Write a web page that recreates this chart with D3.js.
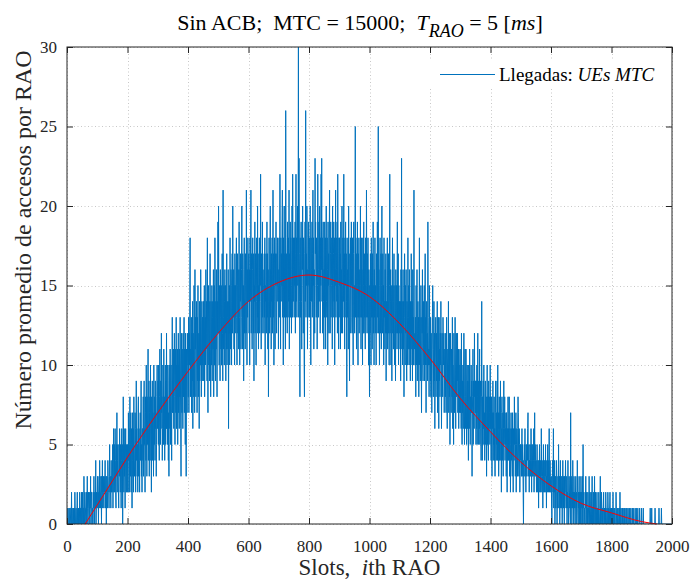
<!DOCTYPE html>
<html>
<head>
<meta charset="utf-8">
<script src="https://d3js.org/d3.v7.min.js"></script>
<style>
  body { margin: 0; background: #fff; }
  svg { display: block; }
</style>
</head>
<body>
<div id="chart"></div>
<script>
// axis ticks
const xTicks = [0, 200, 400, 600, 800, 1000, 1200, 1400, 1600, 1800, 2000];
const yTicks = [0, 5, 10, 15, 20, 25, 30];

// arrivals per RAO slot (slot = index)
const llegadas = [
  1,0,0,1,0,0,0,1,0,0,1,1,0,0,0,2,0,1,0,0,0,1,0,0,1,0,2,1,0,0,1,0,0,1,2,0,0,1,0,1,0,0,2,1,0,1,1,0,2,0,
  1,2,0,1,1,0,3,1,0,2,1,1,0,1,2,0,1,3,1,0,1,2,1,0,0,2,1,1,3,0,1,2,2,0,1,1,0,2,1,3,1,0,2,1,1,4,0,1,2,1,
  2,3,1,2,0,2,3,1,4,2,2,1,3,2,0,3,2,4,1,2,3,2,1,3,2,2,4,1,2,3,0,2,3,2,1,4,3,2,2,1,3,5,2,3,2,1,4,2,3,2,
  3,5,1,4,6,2,3,5,2,6,4,2,1,5,3,7,2,4,5,3,2,1,5,3,6,4,2,5,3,1,4,6,2,5,0,3,8,4,2,6,3,5,1,4,6,3,2,5,4,2,
  5,3,2,7,4,6,2,5,8,4,3,7,2,6,5,1,4,7,3,6,2,8,5,3,4,7,6,2,5,9,4,6,3,5,2,7,8,3,6,4,2,5,7,4,6,9,3,5,2,6,
  6,4,8,3,7,9,5,6,2,8,7,4,10,6,3,8,5,7,11,4,6,9,3,7,8,4,10,6,5,2,8,5,9,4,7,6,3,10,7,5,8,4,9,6,7,3,5,8,10,6,
  7,9,5,10,6,4,8,11,7,5,9,6,12,7,8,4,6,10,9,5,11,7,8,4,7,10,5,9,6,12,6,8,5,10,9,4,7,3,10,8,6,11,5,8,10,7,4,9,13,7,
  9,7,11,6,10,12,8,5,9,11,7,13,6,10,8,11,5,9,12,7,10,6,11,8,13,9,6,3,10,12,7,11,9,6,12,8,10,13,7,11,9,5,12,8,3,11,9,7,12,10,
  10,8,13,7,12,10,14,18,8,11,9,13,7,12,9,14,6,12,11,8,15,10,7,16,11,13,8,10,14,12,7,13,9,15,8,11,12,6,14,9,12,10,16,13,8,11,14,9,13,10,
  11,14,9,13,15,8,12,13,10,16,11,14,12,9,18,11,7,13,15,10,14,9,12,17,11,8,14,12,10,15,9,13,14,11,16,8,12,15,10,18,13,9,14,11,16,12,8,14,12,19,
  12,20,14,10,15,12,9,16,13,11,15,10,14,17,12,9,21,13,11,15,10,14,16,12,15,9,13,11,17,10,14,13,11,16,6,14,12,15,10,18,13,11,16,15,10,14,17,12,20,13,
  13,16,11,15,10,17,13,15,12,16,18,13,10,15,17,12,16,11,14,19,13,10,16,14,17,11,13,16,20,14,11,17,13,15,9,16,18,12,14,11,17,15,12,21,14,10,16,13,18,14,
  14,17,12,16,10,18,14,16,21,12,17,14,11,16,18,13,12,17,9,15,14,19,12,17,15,10,14,18,16,12,20,13,17,11,15,14,18,12,17,15,22,14,11,17,15,12,19,13,16,15,
  15,12,17,13,18,10,15,14,17,12,15,19,13,17,11,16,8,14,18,15,12,17,20,13,16,11,17,14,18,12,15,21,13,17,10,15,18,14,11,17,15,19,13,12,17,15,18,14,16,11,
  15,18,13,17,22,15,11,18,14,17,15,19,21,13,17,10,18,15,20,13,17,15,11,26,18,13,17,16,12,19,16,13,18,14,21,11,17,15,19,13,18,16,12,15,20,13,22,17,14,18,
  16,13,18,15,19,12,17,22,14,18,13,17,20,15,18,30,13,23,17,14,8,18,13,17,19,14,11,18,16,20,15,12,18,16,10,8,17,19,14,26,13,17,15,20,18,11,16,13,19,16,
  15,18,13,17,20,14,10,18,16,14,19,13,17,21,15,18,11,16,14,12,23,17,19,15,13,18,16,11,15,22,18,13,16,19,14,20,17,12,18,15,22,16,23,14,18,12,17,19,14,11,
  16,13,19,15,18,11,16,20,14,13,18,16,10,19,15,17,12,18,21,15,12,17,19,13,15,18,16,11,20,15,13,17,19,14,18,10,16,15,21,13,18,16,14,19,12,22,17,15,11,18,
  15,18,13,17,11,19,15,16,12,20,15,12,18,16,14,22,13,17,11,18,15,19,13,17,14,8,18,13,16,15,11,20,16,13,9,17,15,18,12,13,19,15,16,12,18,14,10,17,19,13,
  15,12,17,25,13,18,15,11,17,13,19,15,10,17,13,18,12,15,16,13,20,15,11,18,13,16,14,10,18,12,15,19,12,17,13,15,11,18,16,13,21,15,12,17,13,18,14,10,16,13,
  8,15,12,17,14,10,18,13,15,11,17,13,19,12,15,10,16,13,18,12,15,13,10,17,15,12,19,13,14,25,12,16,13,10,15,18,12,14,17,11,15,20,13,12,17,14,15,10,18,13,
  14,11,16,12,17,9,14,12,15,18,11,14,12,17,13,10,15,22,12,14,16,10,15,13,9,14,18,12,15,11,14,17,12,10,15,13,9,16,12,15,14,11,19,12,14,17,10,15,12,14,
  13,11,14,9,16,12,23,11,14,10,13,16,11,14,8,13,17,12,10,15,12,16,11,9,14,13,10,18,11,13,15,10,16,11,13,9,14,10,17,12,11,14,9,16,12,13,10,21,12,11,
  12,10,13,8,15,11,10,16,9,12,14,10,13,8,12,18,10,13,9,11,15,10,7,13,12,16,10,9,14,11,10,15,9,12,17,10,13,7,12,14,10,12,9,19,13,10,11,8,15,10,
  11,9,13,8,12,10,7,11,13,15,10,8,11,14,9,12,6,10,12,13,8,12,9,11,14,7,10,13,11,6,13,9,11,8,12,10,14,11,6,10,12,9,8,13,11,10,12,7,10,11,
  10,8,12,7,10,13,8,6,10,11,9,14,7,10,8,12,5,10,12,9,7,11,10,8,13,6,10,9,5,12,10,7,9,13,10,6,9,12,8,10,9,12,7,9,11,6,11,9,7,10,
  9,7,11,6,12,8,5,9,7,10,6,9,12,8,5,9,11,6,8,11,9,5,8,10,6,9,7,4,10,8,6,11,9,5,8,7,10,7,9,3,7,8,11,5,9,8,6,12,8,9,
  7,9,5,9,6,10,5,8,12,7,9,5,8,6,11,5,8,9,6,4,8,14,7,4,8,5,9,6,10,5,7,4,8,9,5,7,8,3,7,10,5,8,6,4,9,6,8,7,5,10,
  6,8,4,8,5,3,7,6,9,4,7,5,8,4,6,3,7,9,5,4,7,5,9,4,10,6,7,3,5,8,4,7,6,9,4,6,2,7,8,5,4,7,3,6,9,5,6,8,4,6,
  5,7,3,7,5,2,6,4,8,4,6,5,8,3,5,6,2,5,7,4,6,4,3,7,5,2,6,5,4,8,5,6,3,5,7,2,5,6,4,3,6,8,7,4,3,6,5,2,4,5,
  4,5,3,4,6,3,5,4,2,0,4,3,5,4,6,3,4,2,5,4,3,5,4,6,7,3,4,5,2,4,3,5,4,3,6,4,2,5,3,4,5,3,4,6,2,4,7,3,5,4,
  3,4,2,3,5,3,2,4,3,1,4,3,5,2,3,4,2,3,6,3,2,4,3,1,3,5,2,4,3,2,4,3,5,2,3,1,4,3,2,5,3,4,2,3,6,2,3,4,3,2,
  2,3,1,0,2,4,3,2,6,1,3,2,4,0,2,3,1,2,4,3,0,2,1,3,2,5,1,2,3,0,2,4,1,3,2,1,3,0,2,4,2,1,3,2,0,3,1,2,4,2,
  2,1,3,0,2,1,4,2,0,1,3,2,1,2,0,7,1,3,2,0,2,1,4,1,2,0,3,1,2,1,0,2,3,1,2,0,1,4,2,1,0,2,1,3,0,2,1,2,0,3,
  1,2,0,1,3,0,5,1,2,0,1,1,0,2,1,3,0,1,2,0,1,0,2,1,1,0,3,1,0,2,1,0,1,2,0,1,3,0,1,1,0,2,0,1,3,0,1,2,0,1,
  0,1,2,0,1,0,1,0,2,1,0,0,1,3,0,1,0,2,1,0,0,1,0,1,2,0,0,1,0,1,0,2,1,0,0,1,0,0,2,1,0,1,0,0,1,2,0,1,0,0,
  1,0,0,1,0,2,0,0,1,0,0,1,0,0,0,2,1,0,0,1,0,0,1,0,0,0,1,0,2,0,0,1,0,0,0,1,0,1,0,0,0,1,0,0,1,0,0,0,1,0,
  0,1,0,0,0,1,0,0,0,0,1,0,0,0,1,0,0,0,0,1,0,0,1,0,0,0,0,0,1,0,0,0,1,0,0,0,0,1,0,0,0,0,0,1,0,0,0,0,0,1,
  0,0,0,0,0,1,0,0,0,0,0,0,0,0,0,0,0,0,0,0,0,0,0,0,0,0,0,0,1,0,0,0,0,1,0,0,0,0,0,0,0,0,0,0,1,0,0,0,0,0,
  0,0,0,0,0,0,0,1,0,0,0,0,0,0,0,1,0,0,0,0,0,0,0,0,0,0,0,0,0,0,0,0,0,0,0,0,0,0,0,0,0,0,0,0,0,0,0,0,0,0
];

// mean curve (red)
const mediaSlots = [60, 100, 150, 200, 300, 400, 500, 600, 700, 800, 900, 1000, 1100, 1200, 1300, 1400, 1500, 1600, 1700, 1800, 1900, 1950];
const mediaVals  = [0, 1.2, 2.7, 4.2, 7.0, 9.6, 12.0, 14.0, 15.2, 15.66, 15.2, 14.3, 12.6, 10.4, 7.9, 5.8, 3.9, 2.4, 1.3, 0.7, 0.15, 0];

const width = 690;
const height = 581;
const plot = { left: 67, right: 672, top: 47, bottom: 524 };
const serif = "Liberation Serif, Times New Roman, serif";
const axisColor = "#262626";

const svg = d3.select("#chart")
    .append("svg")
    .attr("width", width)
    .attr("height", height)
    .attr("font-family", serif);

const x = d3.scaleLinear().domain([0, 2000]).range([plot.left, plot.right]);
const y = d3.scaleLinear().domain([0, 30]).range([plot.bottom, plot.top]);

svg.append("defs").append("clipPath")
    .attr("id", "clip")
    .append("rect")
    .attr("x", plot.left)
    .attr("y", plot.top)
    .attr("width", plot.right - plot.left)
    .attr("height", plot.bottom - plot.top);

// dotted grid
const grid = svg.append("g")
    .attr("stroke", "#c8c8c8")
    .attr("stroke-width", 1)
    .attr("stroke-dasharray", "1,2.5");

grid.selectAll(".gx")
    .data(xTicks)
    .enter()
    .append("line")
    .attr("x1", d => Math.round(x(d)) + 0.5)
    .attr("x2", d => Math.round(x(d)) + 0.5)
    .attr("y1", plot.top)
    .attr("y2", plot.bottom);

grid.selectAll(".gy")
    .data(yTicks)
    .enter()
    .append("line")
    .attr("y1", d => Math.round(y(d)) + 0.5)
    .attr("y2", d => Math.round(y(d)) + 0.5)
    .attr("x1", plot.left)
    .attr("x2", plot.right);

// arrivals
const line = d3.line()
    .x((d, i) => x(i))
    .y(d => y(d));

svg.append("path")
    .datum(llegadas)
    .attr("clip-path", "url(#clip)")
    .attr("fill", "none")
    .attr("stroke", "#0072BD")
    .attr("stroke-width", 1)
    .attr("d", line);

// mean curve
const media = mediaSlots.map((s, i) => [s, mediaVals[i]]);
svg.append("path")
    .datum(media)
    .attr("fill", "none")
    .attr("stroke", "#ff0000")
    .attr("stroke-width", 1)
    .attr("d", d3.line()
        .x(d => x(d[0]))
        .y(d => y(d[1]))
        .curve(d3.curveMonotoneX));

// axes, ticks pointing inward
function styleAxis(g) {
    g.attr("font-family", serif).attr("font-size", 17);
    g.select(".domain").remove();
    g.selectAll(".tick line").attr("stroke", axisColor);
    g.selectAll(".tick text").attr("fill", axisColor);
}

svg.append("g")
    .attr("transform", `translate(0,${plot.bottom})`)
    .call(d3.axisBottom(x).tickValues(xTicks).tickSize(-6).tickPadding(16).tickFormat(d3.format("d")))
    .call(styleAxis);

svg.append("g")
    .attr("transform", `translate(0,${plot.top})`)
    .call(d3.axisTop(x).tickValues(xTicks).tickSize(-6).tickFormat(""))
    .call(styleAxis);

svg.append("g")
    .attr("transform", `translate(${plot.left},0)`)
    .call(d3.axisLeft(y).tickValues(yTicks).tickSize(-6).tickPadding(10))
    .call(styleAxis);

svg.append("g")
    .attr("transform", `translate(${plot.right},0)`)
    .call(d3.axisRight(y).tickValues(yTicks).tickSize(-6).tickFormat(""))
    .call(styleAxis);

svg.append("rect")
    .attr("x", plot.left)
    .attr("y", plot.top)
    .attr("width", plot.right - plot.left)
    .attr("height", plot.bottom - plot.top)
    .attr("fill", "none")
    .attr("stroke", axisColor)
    .attr("stroke-width", 1);

// legend
const legend = svg.append("g");
legend.append("rect")
    .attr("x", 428)
    .attr("y", 61)
    .attr("width", 243)
    .attr("height", 28)
    .attr("fill", "#fff");
legend.append("line")
    .attr("x1", 440).attr("x2", 495)
    .attr("y1", 74.5).attr("y2", 74.5)
    .attr("stroke", "#0072BD")
    .attr("stroke-width", 1);
const legText = legend.append("text")
    .attr("x", 499)
    .attr("y", 81)
    .attr("fill", "#000")
    .attr("font-size", 19)
    .style("white-space", "pre");
legText.append("tspan").text("Llegadas: ");
legText.append("tspan").attr("font-style", "italic").text("UEs MTC");

// title
const title = svg.append("text")
    .attr("x", 360)
    .attr("y", 30)
    .attr("text-anchor", "middle")
    .attr("fill", "#000")
    .attr("font-size", 22)
    .style("white-space", "pre");
title.append("tspan").text("Sin ACB;  MTC = 15000;  ");
title.append("tspan").attr("font-style", "italic").text("T");
title.append("tspan").attr("font-style", "italic").attr("font-size", 18).attr("dy", 7).text("RAO");
title.append("tspan").attr("dy", -7).text(" = 5 [");
title.append("tspan").attr("font-style", "italic").text("ms");
title.append("tspan").text("]");

// axis labels
const xLabel = svg.append("text")
    .attr("x", (plot.left + plot.right) / 2)
    .attr("y", 575)
    .attr("text-anchor", "middle")
    .attr("fill", axisColor)
    .attr("font-size", 23)
    .style("white-space", "pre");
xLabel.append("tspan").text("Slots,  ");
xLabel.append("tspan").attr("font-style", "italic").text("i");
xLabel.append("tspan").text("th RAO");

svg.append("text")
    .attr("transform", "translate(31,240) rotate(-90)")
    .attr("text-anchor", "middle")
    .attr("fill", axisColor)
    .attr("font-size", 24)
    .text("Número promedio de accesos por RAO");
</script>
</body>
</html>
